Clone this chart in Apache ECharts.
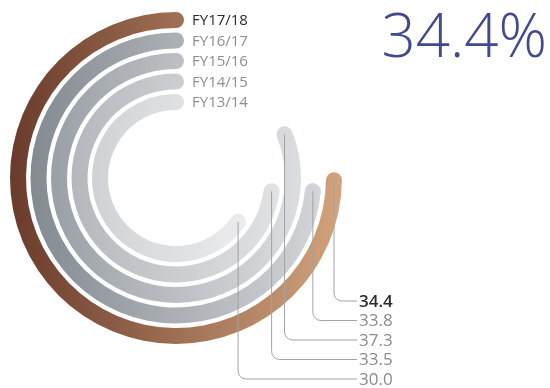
<!DOCTYPE html>
<html>
<head>
<meta charset="utf-8">
<script src="https://cdn.jsdelivr.net/npm/echarts@6/dist/echarts.min.js"></script>
<style>
  html, body { margin: 0; padding: 0; background: #ffffff; }
  #chart { width: 550px; height: 388px; }
</style>
</head>
<body>
<div id="chart"></div>
<script>
// Financial years, innermost ring first
const years = ['FY13/14', 'FY14/15', 'FY15/16', 'FY16/17', 'FY17/18'];
// Share per year (%)
const shares = [30.0, 33.5, 37.3, 33.8, 34.4];
// Headline figure for the latest year
const headline = '34.4%';

// Ring gradients (left -> right), innermost first
const ringColors = [
  ['#cfd2d5', '#ececed'],
  ['#b4b8bc', '#e1e2e4'],
  ['#9aa0a6', '#dcdde0'],
  ['#838a91', '#d3d5d8'],
  ['#6a3b2b', '#d2a37c']
];

const FONT = '"Open Sans", "Noto Sans", sans-serif';
const ROW_TOP = 301;     // first value row
const ROW_STEP = 19.5;   // spacing between value rows
const RC = 8;            // leader corner radius
const LINE_END = 357;    // where leader lines stop
const LEADER = '#a3a3a3';

const chart = echarts.init(document.getElementById('chart'), null, { renderer: 'canvas' });

const barData = shares.map((v, i) => ({
  value: v,
  itemStyle: {
    color: new echarts.graphic.LinearGradient(0, 0, 1, 0, [
      { offset: 0, color: ringColors[i][0] },
      { offset: 1, color: ringColors[i][1] }
    ])
  }
}));

chart.setOption({
  animation: false,
  polar: {
    center: [176, 178],
    radius: [65.75, 168.25]
  },
  angleAxis: {
    type: 'value',
    min: 0,
    max: 46,
    startAngle: 90,
    clockwise: false,
    show: false
  },
  radiusAxis: {
    type: 'category',
    data: years,
    show: false
  },
  graphic: [{
    type: 'text',
    right: 3,
    top: 10,
    style: {
      text: headline,
      font: '300 60px ' + FONT,
      fill: '#414b8b'
    }
  }],
  series: [
    {
      type: 'bar',
      coordinateSystem: 'polar',
      roundCap: true,
      barWidth: 16,
      data: barData,
      z: 2
    },
    {
      type: 'custom',
      coordinateSystem: 'polar',
      z: 5,
      data: shares.map((v, i) => [i, v]),
      renderItem(params, api) {
        const i = params.dataIndex;
        const cat = api.value(0);
        const val = api.value(1);
        const end = api.coord([cat, val]);
        const start = api.coord([cat, 0]);
        const row = years.length - 1 - i;
        const ry = ROW_TOP + row * ROW_STEP;
        const x0 = end[0];
        const y0 = end[1];
        const latest = i === years.length - 1;
        const lineStyle = { stroke: LEADER, lineWidth: 1, fill: null };
        return {
          type: 'group',
          children: [
            { type: 'line', shape: { x1: x0, y1: y0, x2: x0, y2: ry - RC }, style: lineStyle },
            { type: 'arc', shape: { cx: x0 + RC, cy: ry - RC, r: RC, startAngle: Math.PI / 2, endAngle: Math.PI, clockwise: true }, style: lineStyle },
            { type: 'line', shape: { x1: x0 + RC, y1: ry, x2: LINE_END, y2: ry }, style: lineStyle },
            {
              type: 'text',
              x: LINE_END + 2,
              y: ry + 1,
              style: {
                text: val.toFixed(1),
                font: (latest ? '600 ' : '400 ') + '17px ' + FONT,
                fill: latest ? '#2b2b2b' : '#8a8a8a',
                verticalAlign: 'middle',
                align: 'left'
              }
            },
            {
              type: 'text',
              x: start[0] + 16,
              y: start[1] + 1,
              style: {
                text: years[i],
                font: '400 15px ' + FONT,
                fill: latest ? '#2b2b2b' : '#8e8e8e',
                verticalAlign: 'middle',
                align: 'left'
              }
            }
          ]
        };
      }
    }
  ]
});
</script>
</body>
</html>
